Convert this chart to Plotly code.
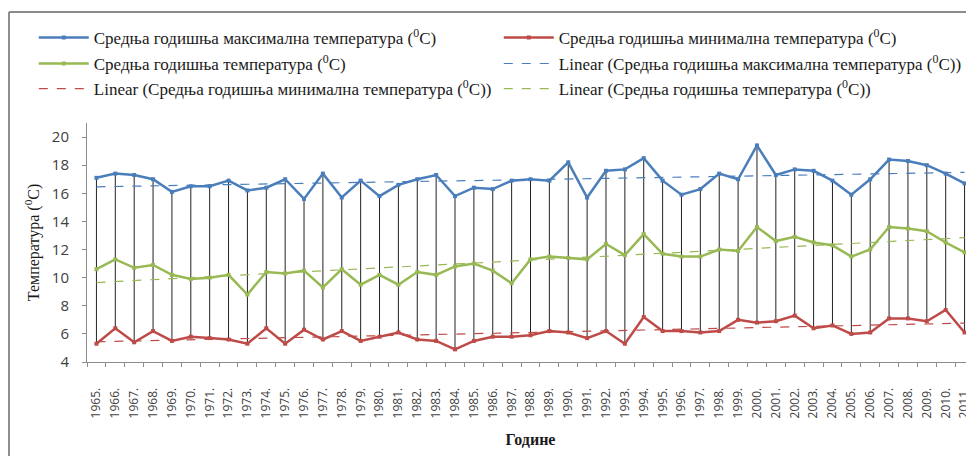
import numpy as np
import plotly.graph_objects as go

# ---- data ----
years = list(range(1965, 2012))
year_labels = [f"{y}." for y in years]

t_max = [17.1, 17.4, 17.3, 17.0, 16.1, 16.5, 16.5, 16.9, 16.2, 16.4,
         17.0, 15.6, 17.4, 15.7, 16.9, 15.8, 16.6, 17.0, 17.3, 15.8,
         16.4, 16.3, 16.9, 17.0, 16.9, 18.2, 15.7, 17.6, 17.7, 18.5,
         16.9, 15.9, 16.3, 17.4, 17.0, 19.4, 17.3, 17.7, 17.6, 16.9,
         15.9, 17.0, 18.4, 18.3, 18.0, 17.4, 16.7]

t_min = [5.3, 6.4, 5.4, 6.2, 5.5, 5.8, 5.7, 5.6, 5.3, 6.4,
         5.3, 6.3, 5.6, 6.2, 5.5, 5.8, 6.1, 5.6, 5.5, 4.9,
         5.5, 5.8, 5.8, 5.9, 6.2, 6.1, 5.7, 6.2, 5.3, 7.2,
         6.2, 6.2, 6.1, 6.2, 7.0, 6.8, 6.9, 7.3, 6.4, 6.6,
         6.0, 6.1, 7.1, 7.1, 6.9, 7.7, 6.1]

t_mean = [10.6, 11.3, 10.7, 10.9, 10.2, 9.9, 10.0, 10.2, 8.8, 10.4,
          10.3, 10.5, 9.3, 10.6, 9.5, 10.2, 9.5, 10.4, 10.2, 10.8,
          11.0, 10.5, 9.6, 11.3, 11.5, 11.4, 11.3, 12.4, 11.6, 13.1,
          11.7, 11.5, 11.5, 12.0, 11.9, 13.6, 12.6, 12.9, 12.5, 12.3,
          11.5, 12.0, 13.6, 13.5, 13.3, 12.5, 11.8]

deg = "(<sup>0</sup>C)"
name_max = f"Средња годишња максимална температура {deg}"
name_min = f"Средња годишња минимална температура {deg}"
name_mean = f"Средња годишња температура {deg}"

c_max, c_min, c_mean = "#4a7ebb", "#be4b48", "#98b954"

def trend(vals):
    idx = np.arange(len(vals))
    k, b = np.polyfit(idx, vals, 1)
    return k * idx + b

fig = go.Figure()

# high-low drop lines
hx, hy = [], []
for lab, hi, lo in zip(year_labels, t_max, t_min):
    hx += [lab, lab, None]
    hy += [hi, lo, None]
fig.add_trace(go.Scatter(x=hx, y=hy, mode="lines", line=dict(color="#222222", width=1),
                         showlegend=False, hoverinfo="skip"))

# legend rows: (max, min), (mean, linear max), (linear min, linear mean)
fig.add_trace(go.Scatter(x=year_labels, y=t_max, name=name_max, mode="lines+markers", legend="legend",
                         line=dict(color=c_max, width=2.5), marker=dict(symbol="square", size=4, color=c_max)))
fig.add_trace(go.Scatter(x=year_labels, y=t_min, name=name_min, mode="lines+markers", legend="legend",
                         line=dict(color=c_min, width=2.5), marker=dict(symbol="square", size=4, color=c_min)))
fig.add_trace(go.Scatter(x=year_labels, y=t_mean, name=name_mean, mode="lines+markers", legend="legend2",
                         line=dict(color=c_mean, width=2.5), marker=dict(symbol="square", size=4, color=c_mean)))
fig.add_trace(go.Scatter(x=year_labels, y=trend(t_max), name=f"Linear ({name_max})", mode="lines",
                         legend="legend2", line=dict(color=c_max, width=1.2, dash="dash")))
fig.add_trace(go.Scatter(x=year_labels, y=trend(t_min), name=f"Linear ({name_min})", mode="lines",
                         legend="legend3", line=dict(color=c_min, width=1.2, dash="dash")))
fig.add_trace(go.Scatter(x=year_labels, y=trend(t_mean), name=f"Linear ({name_mean})", mode="lines",
                         legend="legend3", line=dict(color=c_mean, width=1.2, dash="dash")))

# outer frame (top and left edges visible)
frame = dict(type="line", xref="paper", yref="paper", line=dict(color="#8c8c8c", width=2))
fig.add_shape(**frame, x0=-0.088, x1=1.05, y0=1.464, y1=1.464)
fig.add_shape(**frame, x0=-0.088, x1=-0.088, y0=-0.45, y1=1.464)

leg = dict(orientation="h", x=-0.06, xanchor="left", yanchor="middle",
           entrywidth=400, entrywidthmode="pixels", itemwidth=50,
           font=dict(family="Liberation Serif", size=17), bgcolor="rgba(0,0,0,0)")

fig.update_layout(
    width=966, height=448,
    margin=dict(l=79, r=0, t=115, b=94),
    plot_bgcolor="white", paper_bgcolor="white",
    font=dict(family="Liberation Serif", size=14, color="#1a1a1a"),
    legend=dict(leg, y=1.356),
    legend2=dict(leg, y=1.247),
    legend3=dict(leg, y=1.142),
    xaxis=dict(type="category", range=[-0.5, len(years) - 0.5], tickson="boundaries",
               ticks="outside", ticklen=4, automargin=False, ticklabeloverflow="allow",
               tickcolor="#8c8c8c", showline=True, linecolor="#8c8c8c", linewidth=1,
               tickangle=-90, showgrid=False, ticklabelstandoff=20,
               tickfont=dict(family="Open Sans", size=12, color="#404040"),
               title=dict(text="<b>Године</b>", font=dict(family="Liberation Serif", size=16), standoff=16)),
    yaxis=dict(range=[4, 21], tickvals=list(range(4, 21, 2)), ticks="outside", ticklen=4,
               automargin=False, ticklabelstandoff=10,
               tickcolor="#8c8c8c", showline=True, linecolor="#8c8c8c", linewidth=1,
               showgrid=False, zeroline=False,
               tickfont=dict(family="Open Sans", size=15, color="#404040"),
               title=dict(text=f"Температура {deg}", font=dict(family="Liberation Serif", size=16), standoff=8)),
)

fig.write_html("out.html")
